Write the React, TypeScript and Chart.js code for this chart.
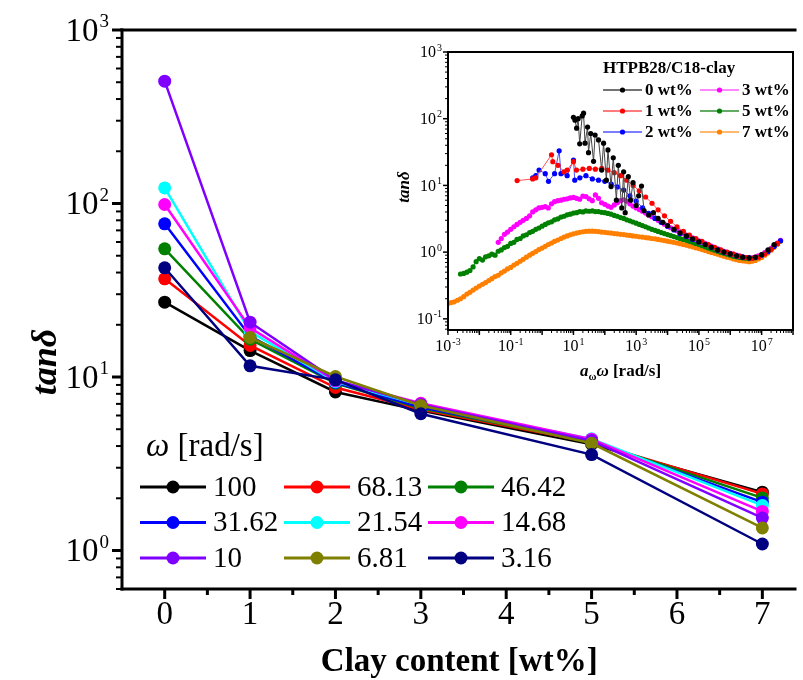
import React, { useEffect, useRef } from 'react';
import { Chart, registerables } from 'chart.js';
Chart.register(...registerables);

const SERIF = '"Liberation Serif", "Times New Roman", serif';

// ---------- main chart data ----------
const clayContent = [0, 1, 2, 3, 5, 7];
const omegaLabels = ['100', '68.13', '46.42', '31.62', '21.54', '14.68', '10', '6.81', '3.16'];
const omegaColors = ['#000000', '#ff0000', '#008000', '#0000ff', '#00ffff', '#ff00ff', '#8000ff', '#808000', '#000080'];
const tan100 = [27, 14.2, 8.2, 6.4, 4.1, 2.17];
const tan68 = [36.8, 15.2, 8.7, 6.5, 4.2, 2.12];
const tan46 = [54.8, 16.5, 9.2, 6.6, 4.25, 2.01];
const tan31 = [76.4, 17.2, 9.3, 6.7, 4.3, 1.9];
const tan21 = [123, 18.3, 9.4, 6.9, 4.4, 1.82];
const tan14 = [98.7, 19.2, 9.5, 7.06, 4.38, 1.68];
const tan10 = [507, 20.7, 9.6, 6.95, 4.3, 1.54];
const tan6 = [null, 16.9, 10.07, 6.85, 4.15, 1.35];
const tan3 = [42.6, 11.6, 9.63, 6.14, 3.57, 1.09];
const omegaSeries = [tan100, tan68, tan46, tan31, tan21, tan14, tan10, tan6, tan3];
const xTickLabels = ['0', '1', '2', '3', '4', '5', '6', '7'];
const yDecades = [0, 1, 2, 3];

// ---------- inset data ----------
const inFreq = [
  1e-3, 1.26e-3, 1.58e-3, 2e-3, 2.5e-3, 3.16e-3, 4e-3, 5e-3, 6.3e-3, 7.9e-3,
  1e-2, 1.26e-2, 1.58e-2, 2e-2, 2.5e-2, 3.16e-2, 4e-2, 5e-2, 6.3e-2, 7.9e-2,
  0.1, 0.126, 0.158, 0.2, 0.25, 0.316, 0.4, 0.5, 0.63, 0.79,
  1, 1.26, 1.58, 2, 2.5, 3.16, 4, 5, 6.3, 7.9,
  10, 12.6, 15.8, 20, 25, 31.6, 40, 50, 63, 79,
  100, 126, 158, 200, 250, 316, 400, 500, 630, 790,
  1e3, 1.26e3, 1.58e3, 2e3, 2.5e3, 3.16e3, 4e3, 5e3, 6.3e3, 7.9e3,
  1e4, 1.26e4, 1.58e4, 2e4, 2.5e4, 3.16e4, 4e4, 5e4, 6.3e4, 7.9e4,
  1e5, 1.26e5, 1.58e5, 2e5, 2.5e5, 3.16e5, 4e5, 5e5, 6.3e5, 7.9e5,
  1e6, 1.26e6, 1.58e6, 2e6, 2.5e6, 3.16e6, 4e6, 5e6, 6.3e6, 7.9e6,
  1e7, 1.26e7, 1.58e7, 2e7, 2.5e7, 3.16e7, 4e7,
];
const wt7 = [
  0.17, 0.175, 0.18, 0.19, 0.2, 0.215, 0.235, 0.25, 0.27, 0.29,
  0.31, 0.33, 0.35, 0.375, 0.4, 0.43, 0.45, 0.49, 0.52, 0.56,
  0.59, 0.64, 0.68, 0.73, 0.78, 0.84, 0.9, 0.96, 1.02, 1.09,
  1.15, 1.22, 1.3, 1.37, 1.45, 1.52, 1.6, 1.68, 1.75, 1.82,
  1.88, 1.93, 1.98, 2.02, 2.05, 2.06, 2.06, 2.05, 2.03, 2.0,
  1.98, 1.95, 1.93, 1.9, 1.88, 1.85, 1.83, 1.8, 1.78, 1.75,
  1.73, 1.7, 1.68, 1.65, 1.63, 1.6, 1.58, 1.55, 1.52, 1.49,
  1.46, 1.43, 1.4, 1.37, 1.34, 1.3, 1.27, 1.23, 1.2, 1.16,
  1.13, 1.09, 1.06, 1.02, 0.99, 0.96, 0.93, 0.9, 0.87, 0.84,
  0.82, 0.79, 0.77, 0.75, 0.74, 0.73, 0.72, 0.73, 0.75, 0.79,
  0.83, 0.9, 0.97, 1.07, 1.18, 1.31, 1.45,
];
const wt5 = [
  null, null, null, null, 0.47, 0.48, 0.5, 0.53, 0.6, 0.72,
  0.8, 0.76, 0.85, 0.88, 0.93, 0.9, 1.03, 1.08, 1.17, 1.22,
  1.35, 1.4, 1.55, 1.6, 1.75, 1.82, 1.97, 2.05, 2.2, 2.3,
  2.45, 2.6, 2.75, 2.85, 3.05, 3.15, 3.35, 3.45, 3.62, 3.7,
  3.85, 3.9, 4.05, 4.0, 4.15, 4.1, 4.15, 4.05, 4.05, 3.95,
  3.9, 3.8, 3.7, 3.55, 3.45, 3.3, 3.2, 3.05, 2.95, 2.83,
  2.72, 2.6, 2.5, 2.4, 2.3, 2.2, 2.12, 2.04, 1.96, 1.9,
  1.83, 1.77, 1.71, 1.65, 1.6, 1.55, 1.5, 1.45, 1.4, 1.35,
  1.3, 1.25, 1.2, 1.15, 1.11, 1.07, 1.03, 0.99, 0.96, 0.93,
  0.9, 0.87, 0.85, 0.83, 0.82, 0.81, 0.8, 0.81, 0.82, 0.86,
  0.9, 0.96, 1.02, 1.11, 1.22, 1.34, 1.48,
];
const wt3 = [
  null, null, null, null, null, null, null, null, null, null,
  null, null, null, null, null, null, 1.4, 1.6, 1.85, 2.0,
  2.2, 2.4, 2.6, 2.8, 3.0, 3.2, 3.5, 4.0, 4.3, 4.6,
  4.7, 4.8, 4.6, 5.3, 5.7, 5.9, 6.0, 6.2, 6.3, 6.5,
  6.6, 6.4, 6.2, 6.9, 6.8, 6.3, 5.9, 7.2, 6.4, 5.5,
  5.2, 4.9, 4.7, 5.1, 5.5, 5.9, 6.1, 5.8, 5.3, 4.9,
  4.6, 4.35, 4.1, 3.85, 3.6, 3.4, 3.2, 3.0, 2.8, 2.62,
  2.45, 2.32, 2.2, 2.1, 2.0, 1.9, 1.8, 1.71, 1.63, 1.55,
  1.48, 1.41, 1.35, 1.29, 1.23, 1.17, 1.12, 1.07, 1.03, 0.99,
  0.96, 0.93, 0.9, 0.87, 0.85, 0.83, 0.82, 0.82, 0.84, 0.88,
  0.92, 0.98, 1.05, 1.14, 1.25, 1.37, 1.5,
];
const wt2Freq = [0.5, 0.63, 0.8, 1.26, 1.6, 2.5, 3.5, 4, 6.3, 10, 11, 16, 25, 40, 63, 100, 160, 250, 400, 630, 1e3, 1.6e3, 2.5e3, 4e3, 6.3e3, 1e4, 1.6e4, 2.5e4, 4e4, 6.3e4, 1e5, 1.6e5, 2.5e5, 4e5, 6.3e5, 1e6, 1.6e6, 2.5e6, 4e6, 6.3e6, 1e7, 1.6e7, 2.5e7, 4e7];
const wt2 = [13, 14, 17, 15, 11.5, 15, 33, 15, 14, 24, 12, 13, 14, 12.5, 12, 11.5, 10.5, 9.5, 8.5, 7, 5.8, 4.6, 3.8, 3.2, 2.8, 2.45, 2.15, 1.9, 1.72, 1.55, 1.42, 1.3, 1.18, 1.08, 1.0, 0.94, 0.88, 0.84, 0.82, 0.83, 0.9, 1.02, 1.22, 1.48];
const wt1Freq = [0.16, 0.5, 0.63, 2, 2.2, 3.2, 5, 6.3, 10, 12.5, 20, 32, 50, 80, 125, 200, 320, 500, 800, 1.25e3, 2e3, 3.2e3, 5e3, 8e3, 1.25e4, 2e4, 3.2e4, 5e4, 8e4, 1.25e5, 2e5, 3.2e5, 5e5, 8e5, 1.25e6, 2e6, 3.2e6, 5e6, 8e6, 1.25e7, 2e7, 3.2e7];
const wt1 = [11.8, 12.5, 13, 28.8, 22.7, 20, 16, 17, 22.7, 17, 17.5, 18, 17.5, 18, 17, 15.5, 14, 12, 10, 8.3, 6.7, 5.4, 4.3, 3.5, 2.9, 2.4, 2.05, 1.8, 1.6, 1.45, 1.3, 1.18, 1.08, 1.0, 0.93, 0.87, 0.83, 0.81, 0.84, 0.94, 1.1, 1.35];
const wt0Freq = [10, 11.2, 12.6, 14.1, 15.8, 19, 21, 23.4, 28.2, 30.2, 35.5, 43.7, 49, 63, 79.4, 91.2, 112, 126, 158, 186, 234, 269, 347, 398, 447, 562, 661, 794, 1000, 1200, 1480, 1780, 2510, 3550, 5010, 7080, 1e4, 1.6e4, 2.5e4, 4e4, 6.3e4, 1e5, 1.6e5, 2.5e5, 4e5, 6.3e5, 1e6, 1.6e6, 2.5e6, 4e6, 6.3e6, 1e7, 1.6e7, 2.5e7];
const wt0 = [105, 95, 72, 100, 42, 110, 121, 43, 75, 31, 60, 23, 57, 48, 17, 43, 12, 34, 9.6, 26, 6, 20, 4.6, 16, 3.9, 13.5, 6, 11, 5, 7, 9.8, 4.2, 3.6, 3.9, 3.2, 2.8, 2.5, 2.2, 1.95, 1.75, 1.58, 1.43, 1.3, 1.18, 1.08, 1.0, 0.94, 0.88, 0.84, 0.82, 0.84, 0.92, 1.08, 1.3];
const insetLabels = ['0 wt%', '1 wt%', '2 wt%', '3 wt%', '5 wt%', '7 wt%'];
const insetColors = ['#000000', '#ff0000', '#0000ff', '#ff00ff', '#008000', '#ff8000'];
const insetLineColors = ['#444444', '#ff5050', '#5050ff', '#ff60ff', '#309030', '#ffa040'];
const insetFreqs = [wt0Freq, wt1Freq, wt2Freq, inFreq, inFreq, inFreq];
const insetValues = [wt0, wt1, wt2, wt3, wt5, wt7];
const insetXDecadeLabels = [-3, -1, 1, 3, 5, 7];
const insetYDecades = [-1, 0, 1, 2, 3];

function toPoints(xs: number[], ys: (number | null)[]) {
  return xs.map((x, i) => ({ x, y: ys[i] }));
}

function drawPow(ctx: CanvasRenderingContext2D, exp: number, x: number, yMid: number, size: number, supSize: number, align: 'right' | 'center', weight = '') {
  ctx.font = `${weight} ${size}px ${SERIF}`;
  const w1 = ctx.measureText('10').width;
  const sup = String(exp);
  ctx.font = `${weight} ${supSize}px ${SERIF}`;
  const w2 = ctx.measureText(sup).width;
  const total = w1 + w2 + 1;
  const start = align === 'right' ? x - total : x - total / 2;
  ctx.textAlign = 'left';
  ctx.textBaseline = 'alphabetic';
  const base = yMid + size * 0.33;
  ctx.font = `${weight} ${size}px ${SERIF}`;
  ctx.fillText('10', start, base);
  ctx.font = `${weight} ${supSize}px ${SERIF}`;
  ctx.fillText(sup, start + w1 + 1, base - size * 0.42);
}

function seg(ctx: CanvasRenderingContext2D, x1: number, y1: number, x2: number, y2: number) {
  ctx.beginPath();
  ctx.moveTo(x1, y1);
  ctx.lineTo(x2, y2);
  ctx.stroke();
}

const mainAxesPlugin = {
  id: 'mainAxes',
  afterDraw(chart: any) {
    const { ctx, chartArea: a, scales } = chart;
    const xs = scales.x;
    const ys = scales.y;
    ctx.save();
    ctx.strokeStyle = '#000';
    ctx.fillStyle = '#000';
    for (let k = 0; k <= 16; k++) {
      const v = k / 2;
      if (v > xs.max) break;
      const px = xs.getPixelForValue(v);
      ctx.lineWidth = 3;
      seg(ctx, px, a.bottom, px, a.bottom + (k % 2 === 0 ? 10 : 6));
    }
    for (let e = -1; e <= 3; e++) {
      for (let m = 1; m <= 9; m++) {
        const v = m * Math.pow(10, e);
        if (v < ys.min * 0.999 || v > ys.max * 1.001) continue;
        const py = ys.getPixelForValue(v);
        ctx.lineWidth = m === 1 ? 3 : 2;
        seg(ctx, a.left, py, a.left - (m === 1 ? 10 : 6), py);
      }
    }
    ctx.lineWidth = 3;
    seg(ctx, a.left, a.top - 1.5, a.left, a.bottom + 1.5);
    seg(ctx, a.left - 1.5, a.bottom, a.right, a.bottom);
    seg(ctx, a.left - 1.5, a.top, a.right, a.top);
    ctx.font = `33px ${SERIF}`;
    ctx.textAlign = 'center';
    ctx.textBaseline = 'alphabetic';
    xTickLabels.forEach((t, i) => {
      ctx.fillText(t, xs.getPixelForValue(i), 624);
    });
    yDecades.forEach((e) => {
      drawPow(ctx, e, a.left - 13, ys.getPixelForValue(Math.pow(10, e)), 33, 19, 'right');
    });
    ctx.font = `bold 33px ${SERIF}`;
    ctx.textAlign = 'center';
    ctx.fillText('Clay content [wt%]', (a.left + a.right) / 2, 671);
    ctx.save();
    ctx.translate(47, 362);
    ctx.rotate(-Math.PI / 2);
    ctx.font = `italic bold 36px ${SERIF}`;
    ctx.textAlign = 'center';
    ctx.textBaseline = 'middle';
    ctx.fillText('tanδ', 0, 0);
    ctx.restore();
    ctx.textAlign = 'left';
    ctx.textBaseline = 'middle';
    ctx.font = `italic 33px ${SERIF}`;
    ctx.fillText('ω', 146, 447);
    const wO = ctx.measureText('ω').width;
    ctx.font = `33px ${SERIF}`;
    ctx.fillText(' [rad/s]', 146 + wO, 447);
    const colX = [140, 284, 428];
    const rowY = [487, 522.5, 558];
    omegaLabels.forEach((lab, i) => {
      const cx = colX[i % 3];
      const cy = rowY[Math.floor(i / 3)];
      ctx.strokeStyle = omegaColors[i];
      ctx.lineWidth = 3;
      seg(ctx, cx, cy, cx + 66, cy);
      ctx.fillStyle = omegaColors[i];
      ctx.beginPath();
      ctx.arc(cx + 33, cy, 6.5, 0, Math.PI * 2);
      ctx.fill();
      ctx.fillStyle = '#000';
      ctx.font = `29px ${SERIF}`;
      ctx.textBaseline = 'middle';
      ctx.fillText(lab, cx + 73, cy + 1);
    });
    ctx.restore();
  },
};

const insetAxesPlugin = {
  id: 'insetAxes',
  afterDraw(chart: any) {
    const { ctx, chartArea: a, scales } = chart;
    const xs = scales.x;
    const ys = scales.y;
    ctx.save();
    ctx.strokeStyle = '#000';
    ctx.fillStyle = '#000';
    for (let e = -3; e <= 8; e++) {
      for (let m = 1; m <= 9; m++) {
        const v = m * Math.pow(10, e);
        if (v < xs.min * 0.999 || v > xs.max * 1.001) continue;
        const px = xs.getPixelForValue(v);
        ctx.lineWidth = m === 1 ? 1.5 : 1;
        seg(ctx, px, a.bottom, px, a.bottom + (m === 1 ? 5 : 3));
      }
    }
    for (let e = -2; e <= 3; e++) {
      for (let m = 1; m <= 9; m++) {
        const v = m * Math.pow(10, e);
        if (v < ys.min * 0.999 || v > ys.max * 1.001) continue;
        const py = ys.getPixelForValue(v);
        ctx.lineWidth = m === 1 ? 1.5 : 1;
        seg(ctx, a.left, py, a.left - (m === 1 ? 5 : 3), py);
      }
    }
    ctx.lineWidth = 2;
    ctx.strokeRect(a.left, a.top, a.right - a.left, a.bottom - a.top);
    insetXDecadeLabels.forEach((e) => {
      drawPow(ctx, e, xs.getPixelForValue(Math.pow(10, e)), a.bottom + 16, 16, 10, 'center');
    });
    insetYDecades.forEach((e) => {
      drawPow(ctx, e, a.left - 6, ys.getPixelForValue(Math.pow(10, e)), 16, 10, 'right');
    });
    ctx.textAlign = 'left';
    ctx.textBaseline = 'alphabetic';
    const parts: [string, string, number][] = [
      ['a', `italic bold 17px ${SERIF}`, 0],
      ['ω', `bold 11px ${SERIF}`, 4],
      ['ω', `italic bold 17px ${SERIF}`, 0],
      [' [rad/s]', `bold 17px ${SERIF}`, 0],
    ];
    let tw = 0;
    parts.forEach(([t, f]) => { ctx.font = f; tw += ctx.measureText(t).width; });
    let tx = (a.left + a.right) / 2 - tw / 2;
    parts.forEach(([t, f, dy]) => {
      ctx.font = f;
      ctx.fillText(t, tx, 376 + dy);
      tx += ctx.measureText(t).width;
    });
    ctx.save();
    ctx.translate(405, 187);
    ctx.rotate(-Math.PI / 2);
    ctx.font = `italic bold 17px ${SERIF}`;
    ctx.textAlign = 'center';
    ctx.textBaseline = 'middle';
    ctx.fillText('tanδ', 0, 0);
    ctx.restore();
    ctx.font = `bold 17px ${SERIF}`;
    ctx.textAlign = 'left';
    ctx.textBaseline = 'middle';
    ctx.fillText('HTPB28/C18-clay', 603, 69);
    const colX = [603, 700];
    const rowY = [90, 111, 132];
    insetLabels.forEach((lab, i) => {
      const cx = colX[Math.floor(i / 3)];
      const cy = rowY[i % 3];
      ctx.strokeStyle = insetLineColors[i];
      ctx.lineWidth = 1.5;
      seg(ctx, cx, cy, cx + 39, cy);
      ctx.fillStyle = insetColors[i];
      ctx.beginPath();
      ctx.arc(cx + 19.5, cy, 2.6, 0, Math.PI * 2);
      ctx.fill();
      ctx.fillStyle = '#000';
      ctx.font = `bold 17px ${SERIF}`;
      ctx.fillText(lab, cx + 42, cy + 1);
    });
    ctx.restore();
  },
};

export default function App() {
  const mainRef = useRef<HTMLCanvasElement>(null);
  const insetRef = useRef<HTMLCanvasElement>(null);

  useEffect(() => {
    const main = new Chart(mainRef.current as HTMLCanvasElement, {
      type: 'line',
      data: {
        datasets: omegaSeries.map((vals, i) => ({
          label: omegaLabels[i],
          data: toPoints(clayContent, vals),
          borderColor: omegaColors[i],
          backgroundColor: omegaColors[i],
          pointBackgroundColor: omegaColors[i],
          pointBorderColor: omegaColors[i],
          pointBorderWidth: 0,
          pointRadius: 6.5,
          borderWidth: 2.5,
          tension: 0,
          order: omegaSeries.length - 1 - i,
        })),
      },
      options: {
        responsive: false,
        animation: false,
        devicePixelRatio: 1,
        events: [],
        layout: { padding: { left: 122, top: 30, right: 0, bottom: 91 } },
        plugins: { legend: { display: false }, tooltip: { enabled: false }, title: { display: false } },
        scales: {
          x: { type: 'linear', min: -0.5, max: 7.4, display: false },
          y: { type: 'logarithmic', min: 0.6, max: 1000, display: false },
        },
      },
      plugins: [mainAxesPlugin],
    } as any);

    const inset = new Chart(insetRef.current as HTMLCanvasElement, {
      type: 'line',
      data: {
        datasets: insetValues.map((vals, i) => ({
          label: insetLabels[i],
          data: toPoints(insetFreqs[i], vals),
          borderColor: insetLineColors[i],
          backgroundColor: insetColors[i],
          pointBackgroundColor: insetColors[i],
          pointBorderColor: insetColors[i],
          pointBorderWidth: 0,
          pointRadius: 2.6,
          borderWidth: 1,
          tension: 0,
        })),
      },
      options: {
        responsive: false,
        animation: false,
        devicePixelRatio: 1,
        events: [],
        layout: { padding: { left: 448, top: 52, right: 10, bottom: 350 } },
        plugins: { legend: { display: false }, tooltip: { enabled: false }, title: { display: false } },
        scales: {
          x: { type: 'logarithmic', min: 1e-3, max: 1e8, display: false },
          y: { type: 'logarithmic', min: 0.068, max: 1000, display: false },
        },
      },
      plugins: [insetAxesPlugin],
    } as any);

    return () => {
      main.destroy();
      inset.destroy();
    };
  }, []);

  return (
    <div style={{ position: 'fixed', left: 0, top: 0, width: 803, height: 680, background: '#fff' }}>
      <canvas ref={mainRef} width={803} height={680} style={{ position: 'absolute', left: 0, top: 0, width: 803, height: 680 }} />
      <canvas ref={insetRef} width={803} height={680} style={{ position: 'absolute', left: 0, top: 0, width: 803, height: 680 }} />
    </div>
  );
}
